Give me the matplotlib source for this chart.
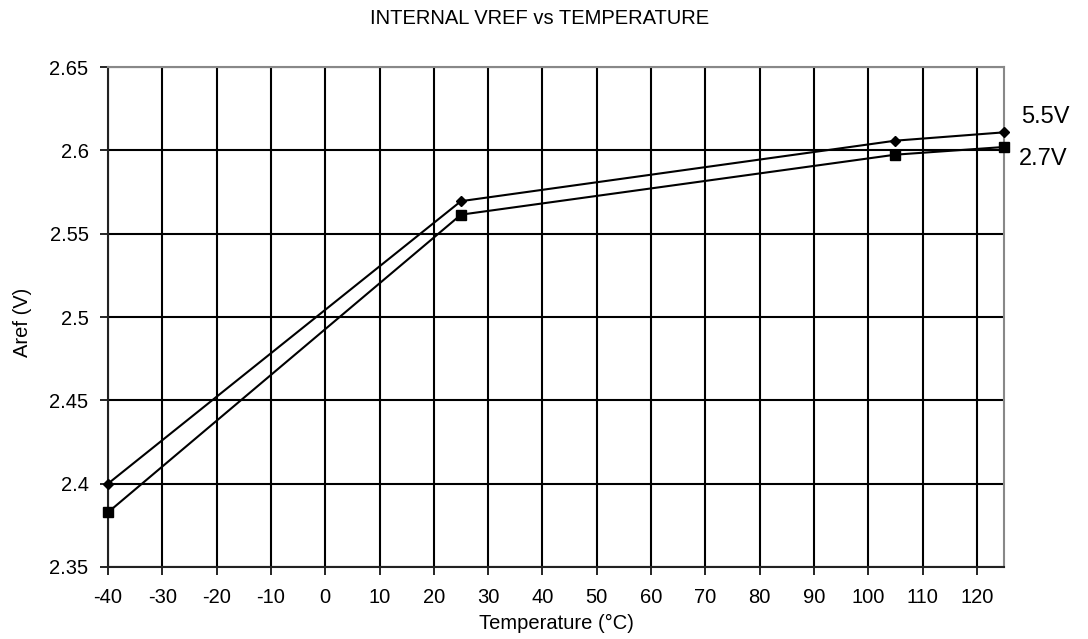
import matplotlib
matplotlib.use("Agg")
import matplotlib.pyplot as plt

temps = [-40, 25, 105, 125]
v55 = [2.400, 2.5695, 2.6058, 2.6108]
v27 = [2.3828, 2.5614, 2.5974, 2.6020]
xticks = list(range(-40, 121, 10))
yticks = [2.35, 2.4, 2.45, 2.5, 2.55, 2.6, 2.65]
ytick_labels = ["2.35", "2.4", "2.45", "2.5", "2.55", "2.6", "2.65"]

plt.rcParams['font.family'] = ['Liberation Sans', 'DejaVu Sans']
fig = plt.figure(figsize=(10.88, 6.39), dpi=100)
ax = fig.add_axes([108/1088, 1-567/639, (1004-108)/1088, (567-67)/639])

ax.plot(temps, v55, color='black', lw=1.5, marker='D', ms=5.5, clip_on=False, zorder=5)
ax.plot(temps, v27, color='black', lw=1.5, marker='s', ms=7.5, clip_on=False, zorder=5)

ax.set_xlim(-40, 125)
ax.set_ylim(2.35, 2.65)
ax.set_xticks(xticks)
ax.set_xticklabels([str(t) for t in xticks])
ax.set_yticks(yticks)
ax.set_yticklabels(ytick_labels)
ax.grid(True, color='black', lw=1.5)
ax.set_axisbelow(True)
ax.tick_params(axis='both', length=6, width=1.2, labelsize=14.5, color='black')
ax.tick_params(axis='x', pad=9)
ax.tick_params(axis='y', pad=8)
ax.spines['left'].set_color('#222222')
ax.spines['bottom'].set_color('#222222')
ax.spines['left'].set_linewidth(1.5)
ax.spines['bottom'].set_linewidth(1.5)
ax.spines['right'].set_color('#888888')
ax.spines['top'].set_color('#888888')
ax.spines['right'].set_linewidth(1.5)
ax.spines['top'].set_linewidth(1.5)

fig.text(540/1088, 1-19/639, "INTERNAL VREF vs TEMPERATURE", ha='center', va='center', fontsize=14.5)
fig.text(556/1088, 1-623/639, "Temperature (°C)", ha='center', va='center', fontsize=14.5)
fig.text(23/1088, 1-322/639, "Aref (V)", ha='center', va='center', rotation=90, fontsize=14.5)
ax.annotate("5.5V", xy=(1021/1088, 1-117/639), xycoords='figure fraction', ha='left', va='center', fontsize=17)
ax.annotate("2.7V", xy=(1019/1088, 1-159/639), xycoords='figure fraction', ha='left', va='center', fontsize=17)

fig.savefig("out.png", dpi=100)
